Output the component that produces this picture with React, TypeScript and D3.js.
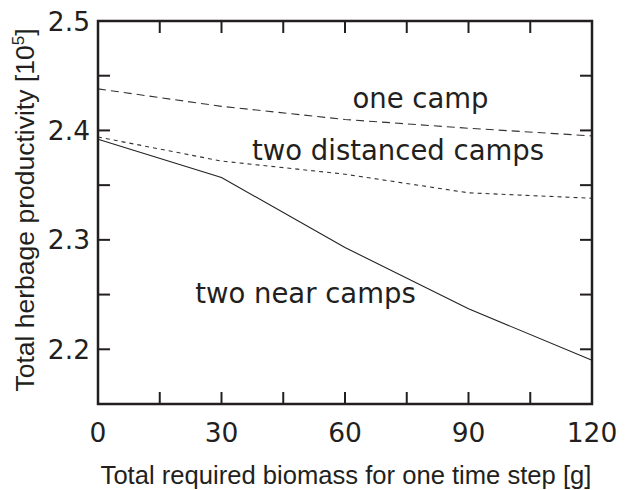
import React from "react";
import * as d3 from "d3";

const xValues = [0, 30, 60, 90, 120];
const oneCamp = [2.438, 2.422, 2.41, 2.402, 2.395];
const twoDistanced = [2.394, 2.372, 2.36, 2.343, 2.338];
const twoNear = [2.392, 2.357, 2.293, 2.237, 2.19];

const xTicks = [0, 15, 30, 45, 60, 75, 90, 105, 120];
const xTickLabels = [0, 30, 60, 90, 120];
const yTicks = [2.15, 2.2, 2.25, 2.3, 2.35, 2.4, 2.45, 2.5];
const yTickLabels = [2.2, 2.3, 2.4, 2.5];

const labels = [
  { text: "one camp", x: 61.8, y: 2.4205 },
  { text: "two distanced camps", x: 37.4, y: 2.373 },
  { text: "two near camps", x: 23.6, y: 2.2422 },
];

const W = 626;
const H = 490;
const L = 98, R = 592, T = 21, B = 404;
const ink = "#231f20";

export default function App() {
  const x = d3.scaleLinear().domain([0, 120]).range([L, R]);
  const y = d3.scaleLinear().domain([2.15, 2.5]).range([B, T]);
  const line = (vals: number[]) =>
    d3.line<number>().x((_, i) => x(xValues[i])).y((v) => y(v))(vals) || "";
  const tl = 12;
  return (
    <svg width={W} height={H} style={{ position: "absolute", left: 0, top: 0, background: "#fff" }}>
      <path d={line(oneCamp)} fill="none" stroke="#333" strokeWidth={1.1} strokeDasharray="8,5" />
      <path d={line(twoDistanced)} fill="none" stroke="#333" strokeWidth={1.1} strokeDasharray="4,4" />
      <path d={line(twoNear)} fill="none" stroke="#222" strokeWidth={1.1} />
      {labels.map((l) => (
        <text key={l.text} x={x(l.x)} y={y(l.y)} fontFamily="DejaVu Sans" fontSize={27.5} fill={ink}>
          {l.text}
        </text>
      ))}
      {xTicks.map((t) => (
        <g key={"x" + t}>
          <line x1={x(t)} x2={x(t)} y1={B} y2={B - tl} stroke={ink} strokeWidth={2} />
          <line x1={x(t)} x2={x(t)} y1={T} y2={T + tl} stroke={ink} strokeWidth={2} />
        </g>
      ))}
      {yTicks.map((t) => (
        <g key={"y" + t}>
          <line x1={L} x2={L + tl} y1={y(t)} y2={y(t)} stroke={ink} strokeWidth={2} />
          <line x1={R} x2={R - tl} y1={y(t)} y2={y(t)} stroke={ink} strokeWidth={2} />
        </g>
      ))}
      <rect x={L} y={T} width={R - L} height={B - T} fill="none" stroke={ink} strokeWidth={2.5} />
      {xTickLabels.map((t) => (
        <text key={"xl" + t} x={x(t)} y={442} textAnchor="middle" fontFamily="DejaVu Sans" fontSize={26.5} fill={ink}>
          {t}
        </text>
      ))}
      {yTickLabels.map((t) => (
        <text key={"yl" + t} x={90} y={y(t)} dy="0.36em" textAnchor="end" fontFamily="DejaVu Sans" fontSize={26.5} fill={ink}>
          {t.toFixed(1)}
        </text>
      ))}
      <text x={(L + R) / 2 + 1} y={484} textAnchor="middle" fontFamily="Liberation Sans, Arial" fontSize={25.6} fill={ink}>
        Total required biomass for one time step [g]
      </text>
      <text
        transform={`translate(34, 210) rotate(-90)`}
        textAnchor="middle"
        fontFamily="Liberation Sans, Arial"
        fontSize={26.5}
        fill={ink}
      >
        Total herbage productivity [10<tspan fontSize={17} dy={-10}>5</tspan><tspan dy={10}>]</tspan>
      </text>
    </svg>
  );
}
